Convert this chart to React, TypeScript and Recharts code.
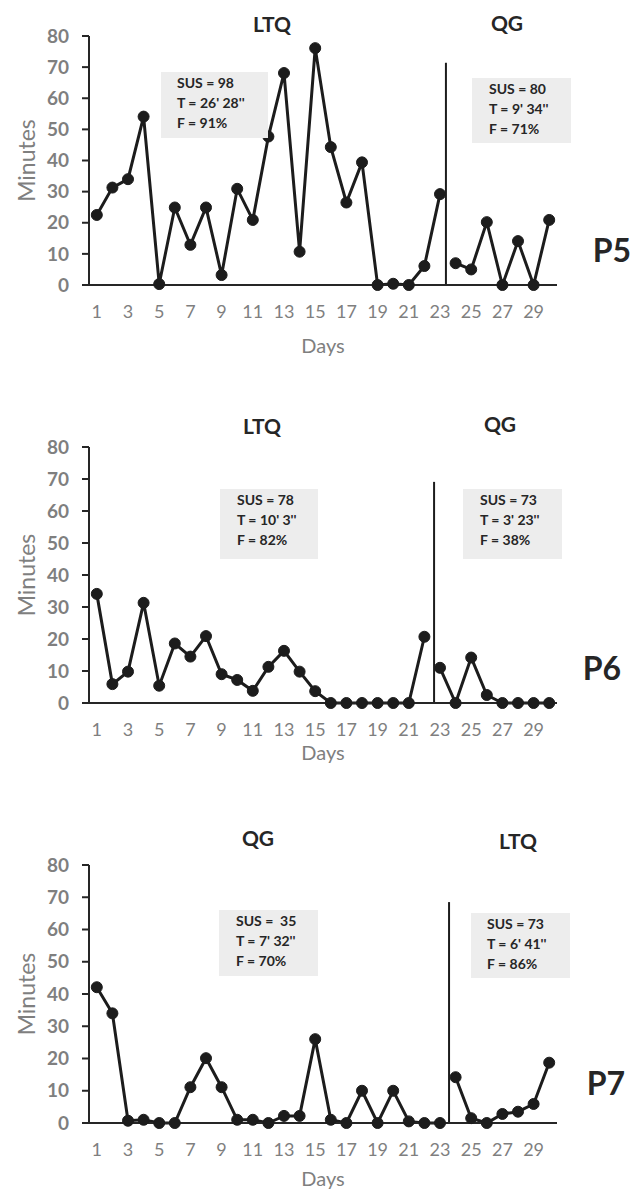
import { LineChart, Line, XAxis, YAxis, ReferenceLine } from "recharts";

// Day index and axis ticks
const days = [1, 2, 3, 4, 5, 6, 7, 8, 9, 10, 11, 12, 13, 14, 15, 16, 17, 18, 19, 20, 21, 22, 23, 24, 25, 26, 27, 28, 29, 30];
const oddDays = [1, 3, 5, 7, 9, 11, 13, 15, 17, 19, 21, 23, 25, 27, 29];
const minuteTicks = [0, 10, 20, 30, 40, 50, 60, 70, 80];

// P5: LTQ days 1-23, QG days 24-30
const p5Ltq = [22.5, 31.3, 34.0, 54.1, 0.3, 24.9, 12.9, 24.9, 3.2, 30.9, 20.9, 47.7, 68.1, 10.7, 76.1, 44.3, 26.5, 39.4, 0, 0.4, 0, 6.1, 29.2];
const p5Qg = [7.0, 5.0, 20.2, 0, 14.1, 0, 20.9];

// P6: LTQ days 1-22, QG days 23-30
const p6Ltq = [34.1, 5.9, 9.8, 31.3, 5.4, 18.6, 14.5, 20.9, 9.0, 7.2, 3.8, 11.3, 16.3, 9.8, 3.7, 0, 0, 0, 0, 0, 0, 20.7];
const p6Qg = [11.0, 0, 14.2, 2.5, 0, 0, 0, 0];

// P7: QG days 1-23, LTQ days 24-30
const p7Qg = [42.1, 34.0, 0.7, 1.0, 0, 0, 11.1, 20.1, 11.1, 1.0, 1.0, 0, 2.2, 2.2, 26.0, 1.0, 0, 10.0, 0, 10.0, 0.5, 0, 0];
const p7Ltq = [14.2, 1.5, 0, 2.8, 3.5, 5.9, 18.7];

const p5Notes = [
  ["SUS = 98", "T = 26' 28''", "F = 91%"],
  ["SUS = 80", "T = 9' 34''", "F = 71%"],
];
const p6Notes = [
  ["SUS = 78", "T = 10' 3''", "F = 82%"],
  ["SUS = 73", "T = 3' 23''", "F = 38%"],
];
const p7Notes = [
  ["SUS =  35", "T = 7' 32''", "F = 70%"],
  ["SUS = 73", "T = 6' 41''", "F = 86%"],
];

const FONT = "Lato, 'Open Sans', sans-serif";
const INK = "#1c1c1c";
const GREY = "#7f7f7f";

function buildRows(first: number[], second: number[]) {
  return days.map((day, i) => ({
    day,
    first: i < first.length ? first[i] : null,
    second: i >= first.length ? second[i - first.length] : null,
  }));
}

const panels = [
  {
    id: "P5",
    top: 0,
    height: 400,
    plotTop: 36,
    plotBottom: 285,
    first: p5Ltq,
    second: p5Qg,
    sepX: 23.38,
    sepTop: 71.4,
    daysDy: 60,
    titles: [
      { text: "LTQ", x: 272, y: 23 },
      { text: "QG", x: 507, y: 22 },
    ],
    notes: p5Notes,
    boxes: [
      { x: 161, y: 72, w: 107, h: 66, pad: 16 },
      { x: 472, y: 78, w: 99, h: 65, pad: 17 },
    ],
    tag: { x: 612, y: 250 },
  },
  {
    id: "P6",
    top: 400,
    height: 400,
    plotTop: 47,
    plotBottom: 303,
    first: p6Ltq,
    second: p6Qg,
    sepX: 22.62,
    sepTop: 69.1,
    daysDy: 49,
    titles: [
      { text: "LTQ", x: 262, y: 425 },
      { text: "QG", x: 500, y: 423 },
    ],
    notes: p6Notes,
    boxes: [
      { x: 220, y: 489, w: 98, h: 70, pad: 17 },
      { x: 463, y: 489, w: 99, h: 70, pad: 17 },
    ],
    tag: { x: 602, y: 668 },
  },
  {
    id: "P7",
    top: 800,
    height: 393,
    plotTop: 65,
    plotBottom: 323,
    first: p7Qg,
    second: p7Ltq,
    sepX: 23.58,
    sepTop: 68.5,
    daysDy: 55,
    titles: [
      { text: "QG", x: 258, y: 837 },
      { text: "LTQ", x: 518, y: 840 },
    ],
    notes: p7Notes,
    boxes: [
      { x: 219, y: 910, w: 99, h: 66, pad: 17 },
      { x: 471, y: 913, w: 99, h: 65, pad: 16 },
    ],
    tag: { x: 606, y: 1083 },
  },
];

function Panel({ p }: { p: (typeof panels)[number] }) {
  const rows = buildRows(p.first, p.second);
  const dot = { r: 5.5, fill: INK, stroke: INK, strokeWidth: 1 };
  return (
    <div style={{ position: "absolute", left: 0, top: p.top }}>
      <LineChart
        width={633}
        height={p.height}
        data={rows}
        margin={{ top: p.plotTop, right: 76, bottom: 0, left: 0 }}
      >
        <XAxis
          type="number"
          dataKey="day"
          domain={[0.5, 30.5]}
          ticks={oddDays}
          interval={0}
          height={p.height - p.plotBottom}
          tickLine={false}
          tickSize={6}
          tickMargin={14}
          axisLine={{ stroke: "#262626", strokeWidth: 2 }}
          tick={{ fill: GREY, fontSize: 18, fontFamily: FONT }}
          label={{
            content: ({ viewBox }: any) => (
              <text
                x={viewBox.x + viewBox.width / 2}
                y={viewBox.y + p.daysDy}
                textAnchor="middle"
                dominantBaseline="central"
                fill={GREY}
                fontSize={20}
                fontFamily={FONT}
              >
                Days
              </text>
            ),
          }}
        />
        <YAxis
          type="number"
          domain={[0, 80]}
          ticks={minuteTicks}
          interval={0}
          width={89}
          tickSize={7}
          tickMargin={13}
          axisLine={{ stroke: "#262626", strokeWidth: 2 }}
          tickLine={{ stroke: "#262626", strokeWidth: 2 }}
          tick={{ fill: GREY, fontSize: 19, fontWeight: 700, fontFamily: FONT }}
          label={{
            content: ({ viewBox }: any) => {
              const cx = 26;
              const cy = viewBox.y + viewBox.height / 2;
              return (
                <text
                  x={cx}
                  y={cy}
                  transform={`rotate(-90, ${cx}, ${cy})`}
                  textAnchor="middle"
                  dominantBaseline="central"
                  fill={GREY}
                  fontSize={23}
                  fontFamily={FONT}
                >
                  Minutes
                </text>
              );
            },
          }}
        />
        <ReferenceLine
          segment={[
            { x: p.sepX, y: 0 },
            { x: p.sepX, y: p.sepTop },
          ]}
          stroke={INK}
          strokeWidth={2}
        />
        <Line
          dataKey="first"
          stroke={INK}
          strokeWidth={3}
          dot={dot}
          activeDot={false}
          isAnimationActive={false}
        />
        <Line
          dataKey="second"
          stroke={INK}
          strokeWidth={3}
          dot={dot}
          activeDot={false}
          isAnimationActive={false}
        />
      </LineChart>
    </div>
  );
}

export default function App() {
  const centered = (x: number, y: number) => ({
    position: "absolute" as const,
    left: x,
    top: y,
    transform: "translate(-50%, -50%)",
    whiteSpace: "nowrap" as const,
    lineHeight: 1,
    fontFamily: FONT,
  });
  return (
    <div
      style={{
        position: "absolute",
        left: 0,
        top: 0,
        width: 633,
        height: 1193,
        background: "#fff",
        overflow: "hidden",
      }}
    >
      {panels.map((p) => (
        <Panel key={p.id} p={p} />
      ))}
      {panels.map((p) => (
        <div key={p.id + "-overlay"}>
          {p.titles.map((t) => (
            <div
              key={t.text}
              style={{ ...centered(t.x, t.y), fontSize: 21, fontWeight: 700, color: "#262626" }}
            >
              {t.text}
            </div>
          ))}
          {p.boxes.map((b, i) => (
            <div
              key={i}
              style={{
                position: "absolute",
                left: b.x,
                top: b.y,
                width: b.w,
                height: b.h,
                boxSizing: "border-box",
                background: "#ededed",
                paddingLeft: b.pad,
                paddingTop: 1,
                fontFamily: FONT,
                fontSize: 14,
                fontWeight: 700,
                lineHeight: "20px",
                color: "#262626",
                whiteSpace: "pre",
              }}
            >
              {p.notes[i].map((line) => (
                <div key={line}>{line}</div>
              ))}
            </div>
          ))}
          <div
            style={{ ...centered(p.tag.x, p.tag.y), fontSize: 32, fontWeight: 700, color: "#262626" }}
          >
            {p.id}
          </div>
        </div>
      ))}
    </div>
  );
}
